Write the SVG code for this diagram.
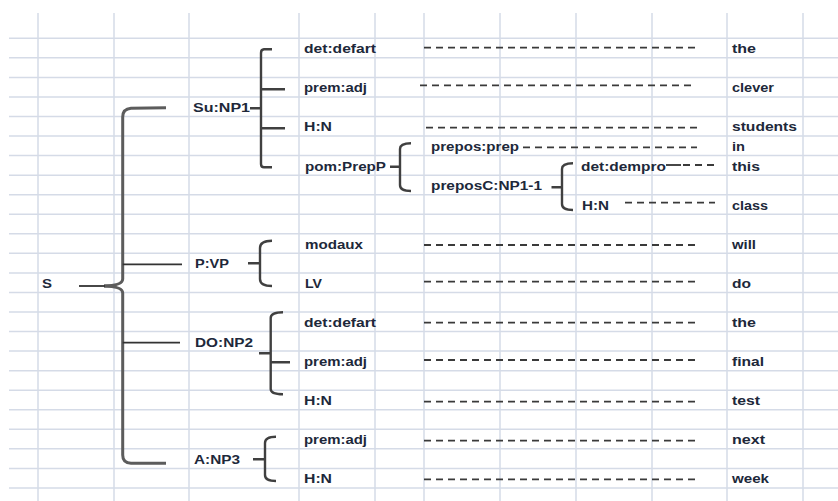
<svg xmlns="http://www.w3.org/2000/svg" width="838" height="501" viewBox="0 0 838 501">
<style>
.grid{stroke:#d5dbe7;stroke-width:1.5;fill:none}
.t{font-family:"Liberation Sans",Arial,sans-serif;font-size:12.5px;font-weight:bold;fill:#20283a}
.br{stroke:#404040;stroke-width:2.4;fill:none;stroke-linecap:butt}
.bs{stroke:#5c5c5c;stroke-width:3;fill:none}
.ln{stroke:#333;stroke-width:1.8;fill:none}
.ds{stroke:#3a3a3a;stroke-width:1.8;stroke-dasharray:7 5;fill:none}
</style>
<rect width="838" height="501" fill="#fff"/>
<g id="grid" class="grid">
<path d="M9 38.3H838M9 57.85H838M9 77.4H838M9 96.95H838M9 116.5H838M9 136.05H838M9 155.6H838M9 175.15H838M9 194.7H838M9 214.25H838M9 233.8H838M9 253.35H838M9 272.9H838M9 292.45H838M9 312H838M9 331.55H838M9 351.1H838M9 370.65H838M9 390.2H838M9 409.75H838M9 429.3H838M9 448.85H838M9 468.4H838M9 487.95H838"/>
<path d="M38 13V501M114 13V501M189 13V501M299 13V501M375 13V501M424 13V501M500 13V501M576 13V501M652 13V501M727 13V501M803 13V501"/>
</g>
<g id="connectors">
<path class="bs" d="M166 107.7L131 108.3Q122.7 109 122.7 117V279Q122.7 285.5 104 286"/>
<path class="bs" d="M104 286Q122.7 286.5 122.7 293V455Q122.7 463 131 463.3L166 463.3"/>
<path class="ln" d="M79 286H105"/>
<path class="ln" d="M122.7 264.3H182M122.7 342.7H180"/>
<path class="br" d="M272 49.3H264Q261 49.5 261 53V164Q261 167.3 264 167.3H272"/>
<path class="br" d="M250 108.3H261M261 89.3H285M261 128.3H285"/>
<path class="br" d="M272 240.7Q260 240.7 260 248V279Q260 286 272 286M248 263.3H260"/>
<path class="br" d="M283 312.3Q270.7 312.3 270.7 318V389Q270.7 394.3 283 394.3M259 353.3H270.7M270.7 362.3H290"/>
<path class="br" d="M276 436.7Q265 436.7 265 443V475Q265 481 276 481M253 459.3H265"/>
<path class="br" d="M411 143.3Q400 143.3 400 149V185Q400 191 411 191M390 166.7H400"/>
<path class="br" d="M573 163.3Q562 163.3 562 169V204Q562 210 573 210M551.5 187.3H562"/>
<path class="ds" d="M424 47.7H698M420 85.3H694M426 127.7H700M523 147.3H697M683 165H715M625 202.7H715M424 245H698M424 281.7H698M424 322.7H698M424 360H698M424 401.7H698M424 440.7H698M424 479.3H698"/>
<path class="ln" d="M666 165H681"/>
</g>
<g id="n-S"><text class="t" x="42" y="287.85" textLength="10" lengthAdjust="spacingAndGlyphs">S</text></g>
<g id="n-SuNP1"><text class="t" x="193" y="111.9" textLength="57" lengthAdjust="spacingAndGlyphs">Su:NP1</text></g>
<g id="n-PVP"><text class="t" x="195" y="268.3" textLength="34" lengthAdjust="spacingAndGlyphs">P:VP</text></g>
<g id="n-DONP2"><text class="t" x="195" y="346.5" textLength="58" lengthAdjust="spacingAndGlyphs">DO:NP2</text></g>
<g id="n-ANP3"><text class="t" x="194" y="463.8" textLength="46" lengthAdjust="spacingAndGlyphs">A:NP3</text></g>
<g id="n-det1"><text class="t" x="304" y="53.25" textLength="72" lengthAdjust="spacingAndGlyphs">det:defart</text></g>
<g id="n-prem1"><text class="t" x="304" y="92.35" textLength="63" lengthAdjust="spacingAndGlyphs">prem:adj</text></g>
<g id="n-HN1"><text class="t" x="304" y="131.45" textLength="28" lengthAdjust="spacingAndGlyphs">H:N</text></g>
<g id="n-pom"><text class="t" x="305" y="170.55" textLength="81" lengthAdjust="spacingAndGlyphs">pom:PrepP</text></g>
<g id="n-prepos"><text class="t" x="431" y="151" textLength="88" lengthAdjust="spacingAndGlyphs">prepos:prep</text></g>
<g id="n-preposC"><text class="t" x="431" y="190.1" textLength="111" lengthAdjust="spacingAndGlyphs">preposC:NP1-1</text></g>
<g id="n-dempro"><text class="t" x="581" y="170.55" textLength="85" lengthAdjust="spacingAndGlyphs">det:dempro</text></g>
<g id="n-HN2"><text class="t" x="582" y="209.65" textLength="27" lengthAdjust="spacingAndGlyphs">H:N</text></g>
<g id="n-modaux"><text class="t" x="305" y="248.75" textLength="58" lengthAdjust="spacingAndGlyphs">modaux</text></g>
<g id="n-LV"><text class="t" x="305" y="287.85" textLength="17" lengthAdjust="spacingAndGlyphs">LV</text></g>
<g id="n-det2"><text class="t" x="304" y="326.95" textLength="72" lengthAdjust="spacingAndGlyphs">det:defart</text></g>
<g id="n-prem2"><text class="t" x="304" y="366.05" textLength="63" lengthAdjust="spacingAndGlyphs">prem:adj</text></g>
<g id="n-HN3"><text class="t" x="304" y="405.15" textLength="28" lengthAdjust="spacingAndGlyphs">H:N</text></g>
<g id="n-prem3"><text class="t" x="304" y="444.25" textLength="63" lengthAdjust="spacingAndGlyphs">prem:adj</text></g>
<g id="n-HN4"><text class="t" x="304" y="483.35" textLength="28" lengthAdjust="spacingAndGlyphs">H:N</text></g>
<g id="w-the1"><text class="t" x="732" y="53.25" textLength="24" lengthAdjust="spacingAndGlyphs">the</text></g>
<g id="w-clever"><text class="t" x="732" y="92.35" textLength="42" lengthAdjust="spacingAndGlyphs">clever</text></g>
<g id="w-students"><text class="t" x="732" y="131.45" textLength="65" lengthAdjust="spacingAndGlyphs">students</text></g>
<g id="w-in"><text class="t" x="732" y="151" textLength="13" lengthAdjust="spacingAndGlyphs">in</text></g>
<g id="w-this"><text class="t" x="732" y="170.55" textLength="28" lengthAdjust="spacingAndGlyphs">this</text></g>
<g id="w-class"><text class="t" x="732" y="209.65" textLength="36" lengthAdjust="spacingAndGlyphs">class</text></g>
<g id="w-will"><text class="t" x="732" y="248.75" textLength="24" lengthAdjust="spacingAndGlyphs">will</text></g>
<g id="w-do"><text class="t" x="732" y="287.85" textLength="19" lengthAdjust="spacingAndGlyphs">do</text></g>
<g id="w-the2"><text class="t" x="732" y="326.95" textLength="24" lengthAdjust="spacingAndGlyphs">the</text></g>
<g id="w-final"><text class="t" x="732" y="366.05" textLength="32" lengthAdjust="spacingAndGlyphs">final</text></g>
<g id="w-test"><text class="t" x="732" y="405.15" textLength="28" lengthAdjust="spacingAndGlyphs">test</text></g>
<g id="w-next"><text class="t" x="732" y="444.25" textLength="33" lengthAdjust="spacingAndGlyphs">next</text></g>
<g id="w-week"><text class="t" x="732" y="483.35" textLength="37" lengthAdjust="spacingAndGlyphs">week</text></g>
</svg>
